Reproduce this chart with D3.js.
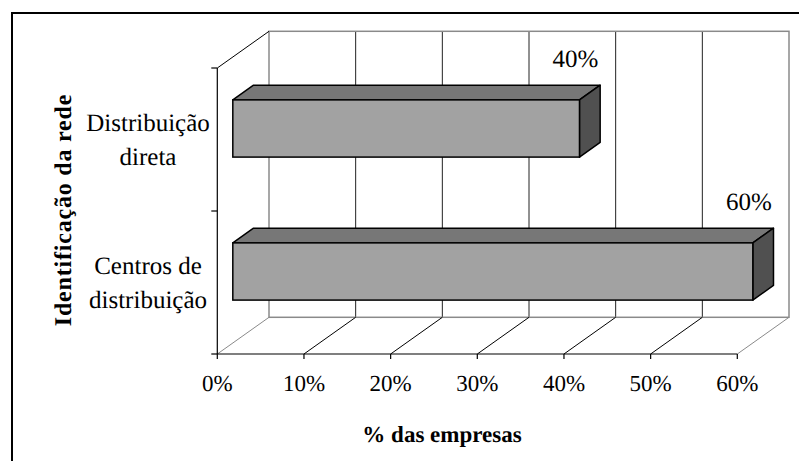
<!DOCTYPE html>
<html><head><meta charset="utf-8">
<script src="https://cdn.jsdelivr.net/npm/d3@7"></script>
<style>html,body{margin:0;padding:0;background:#fff;overflow:hidden} text{text-rendering:geometricPrecision}</style>
</head><body>
<svg id="c" width="799" height="461"></svg>
<script>
const categories = [["Distribuição","direta"],["Centros de","distribuição"]];
const values = [0.40, 0.60];
const valueLabels = ["40%","60%"];
const xTicks = [0,0.1,0.2,0.3,0.4,0.5,0.6];
const xTitle = "% das empresas";
const yTitle = "Identificação da rede";

const svg = d3.select("#c");
const FONT = "Liberation Serif, Times New Roman, serif";

// front-plane scales
const x = d3.scaleLinear().domain([0,0.6]).range([217.3,737.3]);
const y = d3.scaleBand().domain(categories.map((d,i)=>i)).range([68,354]).paddingInner(0.6).paddingOuter(0.3);
const DX = 51.7, DY = -36.7; // depth vector
const yTop = 68, yBot = 354;

svg.append("rect").attr("x",0).attr("y",0).attr("width",799).attr("height",461).attr("fill","#fff");
// outer border
svg.append("rect").attr("x",12).attr("y",13).attr("width",820).attr("height",480)
  .attr("fill","none").attr("stroke","#000").attr("stroke-width",2);

const g = svg.append("g");
const gray = "#8a8a8a";
// back wall gridlines
xTicks.slice(1,-1).forEach(t=>{
  g.append("line").attr("x1",x(t)+DX).attr("x2",x(t)+DX).attr("y1",yTop+DY).attr("y2",yBot+DY)
   .attr("stroke","#222").attr("stroke-width",1);
});
// back wall border
g.append("rect").attr("x",x(0)+DX).attr("y",yTop+DY).attr("width",x(0.6)-x(0)).attr("height",yBot-yTop)
  .attr("fill","none").attr("stroke",gray).attr("stroke-width",1.5);
// floor diagonals
xTicks.forEach((t,i)=>{
  g.append("line").attr("x1",x(t)).attr("y1",yBot).attr("x2",x(t)+DX).attr("y2",yBot+DY)
   .attr("stroke",(i===0||i===xTicks.length-1)?gray:"#000").attr("stroke-width",1);
});
// left wall top diagonal
g.append("line").attr("x1",x(0)).attr("y1",yTop).attr("x2",x(0)+DX).attr("y2",yTop+DY)
  .attr("stroke","#000").attr("stroke-width",1);
// y axis line + ticks
g.append("line").attr("x1",x(0)).attr("x2",x(0)).attr("y1",yTop).attr("y2",yBot).attr("stroke","#000").attr("stroke-width",1.2);
[yTop, yTop+y.step(), yBot].forEach(v=>{
  g.append("line").attr("x1",x(0)-6).attr("x2",x(0)).attr("y1",v).attr("y2",v).attr("stroke","#000").attr("stroke-width",1.2);
});
// x axis line + ticks
g.append("line").attr("x1",x(0)).attr("x2",x(0.6)).attr("y1",yBot).attr("y2",yBot).attr("stroke","#000").attr("stroke-width",1.2);
xTicks.forEach(t=>{
  g.append("line").attr("x1",x(t)).attr("x2",x(t)).attr("y1",yBot).attr("y2",yBot+5).attr("stroke","#000").attr("stroke-width",1.2);
  g.append("text").attr("x",x(t)).attr("y",391).attr("text-anchor","middle")
   .attr("font-family",FONT).attr("font-size",23).attr("fill","#000").text(d3.format(".0%")(t));
});

// bars (at depth 0.3..0.7)
const f0 = 0.3, f1 = 0.7;
const bdx = (f1-f0)*DX, bdy = (f1-f0)*DY;
values.forEach((v,i)=>{
  const x0 = x(0)+f0*DX, x1 = x(v)+f0*DX;
  const y0 = y(i)+f0*DY, y1 = y0 + y.bandwidth();
  const sw = 1.5;
  g.append("path").attr("d",`M${x0},${y0}L${x0+bdx},${y0+bdy}L${x1+bdx},${y0+bdy}L${x1},${y0}Z`)
   .attr("fill","#777").attr("stroke","#000").attr("stroke-width",sw).attr("stroke-linejoin","round");
  g.append("path").attr("d",`M${x1},${y0}L${x1+bdx},${y0+bdy}L${x1+bdx},${y1+bdy}L${x1},${y1}Z`)
   .attr("fill","#505050").attr("stroke","#000").attr("stroke-width",sw).attr("stroke-linejoin","round");
  g.append("rect").attr("x",x0).attr("y",y0).attr("width",x1-x0).attr("height",y1-y0)
   .attr("fill","#a2a2a2").attr("stroke","#000").attr("stroke-width",sw);
  g.append("text").attr("x",x1-4).attr("y",y0+bdy-18).attr("text-anchor","middle")
   .attr("font-family",FONT).attr("font-size",25).attr("fill","#000").text(valueLabels[i]);
  const c = y(i)+y.bandwidth()/2;
  const lines = categories[i];
  lines.forEach((ln,j)=>{
    g.append("text").attr("x",148).attr("y",c+(j-(lines.length-1)/2)*34+8).attr("text-anchor","middle")
     .attr("font-family",FONT).attr("font-size",25).attr("fill","#000").text(ln);
  });
});

// axis titles
svg.append("text").attr("x",442).attr("y",442).attr("text-anchor","middle")
  .attr("font-family",FONT).attr("font-size",23).attr("font-weight","bold").attr("fill","#000").text(xTitle);
svg.append("text").attr("transform","translate(71,210) rotate(-90)").attr("text-anchor","middle")
  .attr("font-family",FONT).attr("font-size",24).attr("font-weight","bold").attr("letter-spacing",0.8).attr("fill","#000").text(yTitle);
</script>
</body></html>
